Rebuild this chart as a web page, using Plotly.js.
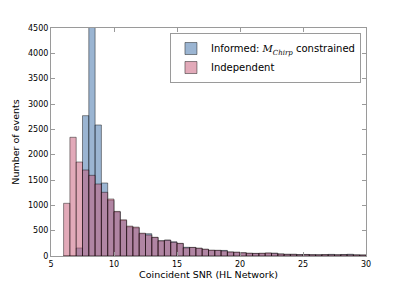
<!DOCTYPE html>
<html>
<head>
<meta charset="utf-8">
<script src="https://cdn.plot.ly/plotly-3.0.1.min.js"></script>
<style>html,body{margin:0;padding:0;background:#fff;}#chart{width:407px;height:285px;}</style>
</head>
<body>
<div id="chart"></div>
<script>
// Bin left edges (bin width 0.5)
const binEdges = [6.0,6.5,7.0,7.5,8.0,8.5,9.0,9.5,10.0,10.5,11.0,11.5,12.0,12.5,13.0,13.5,14.0,14.5,15.0,15.5,16.0,16.5,17.0,17.5,18.0,18.5,19.0,19.5,20.0,20.5,21.0,21.5,22.0,22.5,23.0,23.5,24.0,24.5,25.0,25.5,26.0,26.5,27.0,27.5,28.0,28.5,29.0,29.5];
const binWidth = 0.5;
const informedCounts = [0,0,158,2770,4700,2586,1441,1100,870,700,575,555,440,440,365,300,315,280,245,172,168,150,130,110,110,110,78,72,62,52,50,50,55,55,40,33,33,28,30,25,24,26,32,24,30,34,22,20];
const independentCounts = [1040,2343,1855,1698,1592,1421,1257,1125,880,715,590,570,450,415,370,300,310,270,250,160,170,155,135,115,112,100,80,75,65,55,52,55,60,52,40,33,33,26,30,26,24,28,25,24,26,24,22,20];
const seriesNames = ['Informed: <span style="font-family:DejaVu Serif"><i>M</i><sub><i>Chirp</i></sub></span> constrained','Independent'];
const xTicks = [5,10,15,20,25,30];
const yTicks = [0,500,1000,1500,2000,2500,3000,3500,4000,4500];

const centers = binEdges.map(e => e + binWidth/2);
const edgeLine = {color:'rgba(0,0,0,0.55)', width:0.8};
const traces = [
  {type:'bar', x:centers, y:informedCounts, width:binWidth, name:seriesNames[0],
   marker:{color:'rgba(55,107,165,0.5)', line:edgeLine}},
  {type:'bar', x:centers, y:independentCounts, width:binWidth, name:seriesNames[1],
   marker:{color:'rgba(197,85,115,0.5)', line:edgeLine}}
];
const axisCommon = {showline:true, linecolor:'#9a9a9a', linewidth:1, mirror:'ticks', ticks:'inside', ticklen:4, tickcolor:'#9a9a9a', showgrid:false, zeroline:false, tickfont:{family:'DejaVu Sans', size:8, color:'#000'}};
const layout = {
  width:407, height:285,
  margin:{l:51, r:41, t:28, b:29},
  paper_bgcolor:'#fff', plot_bgcolor:'#fff',
  barmode:'overlay', bargap:0,
  font:{family:'DejaVu Sans', color:'#000'},
  showlegend:true,
  legend:{x:0.984, xanchor:'right', y:0.978, yanchor:'top', bgcolor:'#fff', bordercolor:'#9a9a9a', borderwidth:1, font:{family:'DejaVu Sans', size:10}, tracegroupgap:0, itemwidth:30},
  xaxis:Object.assign({}, axisCommon, {range:[5,30], tickvals:xTicks, ticktext:xTicks.map(String), title:{text:'Coincident SNR (HL Network)', font:{size:9.5, family:'DejaVu Sans'}, standoff:2}}),
  yaxis:Object.assign({}, axisCommon, {range:[0,4500], tickvals:yTicks, ticktext:yTicks.map(String), title:{text:'Number of events', font:{size:9.5, family:'DejaVu Sans'}, standoff:6}})
};
Plotly.newPlot('chart', traces, layout, {displayModeBar:false, staticPlot:true});
</script>
</body>
</html>
